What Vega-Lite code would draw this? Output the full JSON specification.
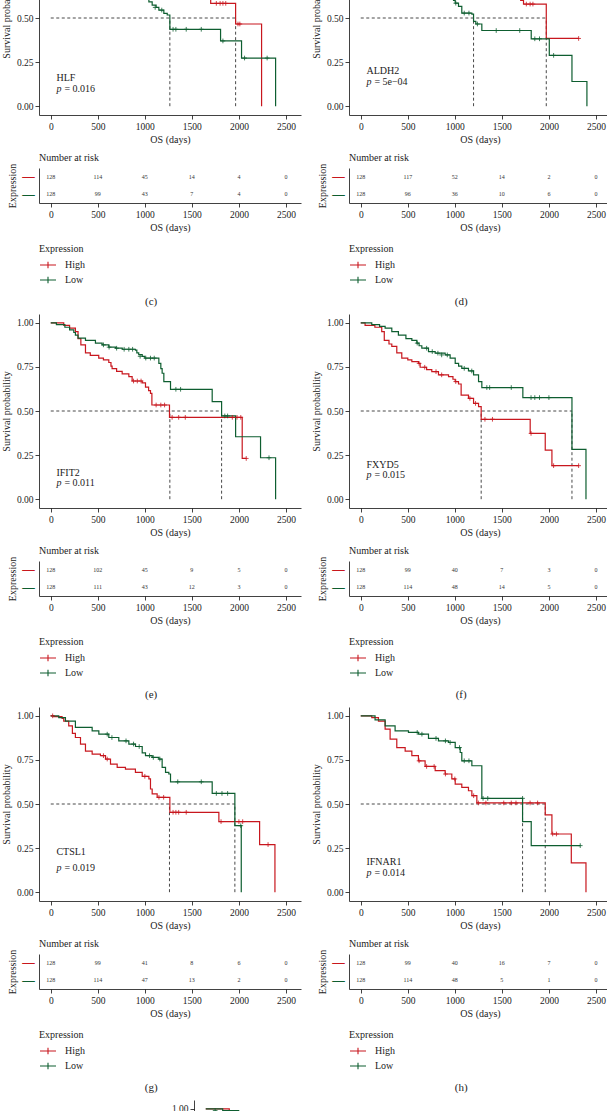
{
"$schema":"https://vega.github.io/schema/vega-lite/v6.json",
"background":"white",
"padding":{"top":-79,"left":1,"right":-4,"bottom":-212},
"config":{"font":"Liberation Serif","view":{"stroke":null},
"axis":{"domainColor":"#111","tickColor":"#111","domainWidth":0.8,"tickWidth":0.8,"tickSize":4,"labelPadding":2.5,"labelFontSize":9.5,"labelColor":"#222","titleFontSize":10,"titleFontWeight":"normal","titleColor":"#222","titlePadding":3.5,"grid":false},
"axisY":{"titlePadding":5,"labelPadding":2},
"title":{"fontWeight":"normal","color":"#222"}},
"datasets":{
"km":[
{"p":"c","g":"High","t":0,"s":1},{"p":"c","g":"High","t":200,"s":0.97},{"p":"c","g":"High","t":350,"s":0.94},{"p":"c","g":"High","t":500,"s":0.9},{"p":"c","g":"High","t":650,"s":0.86},{"p":"c","g":"High","t":800,"s":0.82},{"p":"c","g":"High","t":950,"s":0.78},{"p":"c","g":"High","t":1100,"s":0.74},{"p":"c","g":"High","t":1250,"s":0.7},{"p":"c","g":"High","t":1400,"s":0.66},{"p":"c","g":"High","t":1550,"s":0.62},{"p":"c","g":"High","t":1700,"s":0.583},{"p":"c","g":"High","t":1965,"s":0.466},{"p":"c","g":"High","t":2241,"s":0},
{"p":"c","g":"Low","t":0,"s":1},{"p":"c","g":"Low","t":150,"s":0.97},{"p":"c","g":"Low","t":300,"s":0.92},{"p":"c","g":"Low","t":450,"s":0.88},{"p":"c","g":"Low","t":600,"s":0.83},{"p":"c","g":"Low","t":750,"s":0.77},{"p":"c","g":"Low","t":900,"s":0.7},{"p":"c","g":"Low","t":1000,"s":0.64},{"p":"c","g":"Low","t":1043,"s":0.592},{"p":"c","g":"Low","t":1078,"s":0.573},{"p":"c","g":"Low","t":1120,"s":0.56},{"p":"c","g":"Low","t":1149,"s":0.545},{"p":"c","g":"Low","t":1202,"s":0.526},{"p":"c","g":"Low","t":1238,"s":0.517},{"p":"c","g":"Low","t":1266,"s":0.436},{"p":"c","g":"Low","t":1805,"s":0.37},{"p":"c","g":"Low","t":2028,"s":0.273},{"p":"c","g":"Low","t":2390,"s":0},
{"p":"d","g":"High","t":0,"s":1},{"p":"d","g":"High","t":300,"s":0.96},{"p":"d","g":"High","t":600,"s":0.9},{"p":"d","g":"High","t":900,"s":0.82},{"p":"d","g":"High","t":1200,"s":0.72},{"p":"d","g":"High","t":1500,"s":0.64},{"p":"d","g":"High","t":1700,"s":0.6},{"p":"d","g":"High","t":1730,"s":0.579},{"p":"d","g":"High","t":1972,"s":0.384},{"p":"d","g":"High","t":2316,"s":0.384},
{"p":"d","g":"Low","t":0,"s":1},{"p":"d","g":"Low","t":200,"s":0.95},{"p":"d","g":"Low","t":400,"s":0.87},{"p":"d","g":"Low","t":600,"s":0.79},{"p":"d","g":"Low","t":800,"s":0.71},{"p":"d","g":"Low","t":950,"s":0.63},{"p":"d","g":"Low","t":986,"s":0.6},{"p":"d","g":"Low","t":1004,"s":0.584},{"p":"d","g":"Low","t":1039,"s":0.566},{"p":"d","g":"Low","t":1074,"s":0.528},{"p":"d","g":"Low","t":1181,"s":0.522},{"p":"d","g":"Low","t":1199,"s":0.481},{"p":"d","g":"Low","t":1223,"s":0.466},{"p":"d","g":"Low","t":1287,"s":0.429},{"p":"d","g":"Low","t":1812,"s":0.382},{"p":"d","g":"Low","t":2004,"s":0.288},{"p":"d","g":"Low","t":2245,"s":0.14},{"p":"d","g":"Low","t":2404,"s":0},
{"p":"e","g":"High","t":0,"s":1},{"p":"e","g":"High","t":138,"s":0.985},{"p":"e","g":"High","t":200,"s":0.97},{"p":"e","g":"High","t":262,"s":0.95},{"p":"e","g":"High","t":290,"s":0.91},{"p":"e","g":"High","t":320,"s":0.875},{"p":"e","g":"High","t":369,"s":0.83},{"p":"e","g":"High","t":420,"s":0.815},{"p":"e","g":"High","t":510,"s":0.8},{"p":"e","g":"High","t":560,"s":0.79},{"p":"e","g":"High","t":617,"s":0.775},{"p":"e","g":"High","t":640,"s":0.755},{"p":"e","g":"High","t":652,"s":0.74},{"p":"e","g":"High","t":700,"s":0.725},{"p":"e","g":"High","t":759,"s":0.71},{"p":"e","g":"High","t":830,"s":0.695},{"p":"e","g":"High","t":865,"s":0.67},{"p":"e","g":"High","t":972,"s":0.66},{"p":"e","g":"High","t":1007,"s":0.635},{"p":"e","g":"High","t":1040,"s":0.615},{"p":"e","g":"High","t":1060,"s":0.6},{"p":"e","g":"High","t":1075,"s":0.534},{"p":"e","g":"High","t":1262,"s":0.464},{"p":"e","g":"High","t":2035,"s":0.231},{"p":"e","g":"High","t":2078,"s":0.231},
{"p":"e","g":"Low","t":0,"s":1},{"p":"e","g":"Low","t":60,"s":0.99},{"p":"e","g":"Low","t":150,"s":0.975},{"p":"e","g":"Low","t":200,"s":0.96},{"p":"e","g":"Low","t":245,"s":0.945},{"p":"e","g":"Low","t":262,"s":0.93},{"p":"e","g":"Low","t":290,"s":0.913},{"p":"e","g":"Low","t":369,"s":0.9},{"p":"e","g":"Low","t":475,"s":0.885},{"p":"e","g":"Low","t":546,"s":0.875},{"p":"e","g":"Low","t":617,"s":0.862},{"p":"e","g":"Low","t":690,"s":0.856},{"p":"e","g":"Low","t":760,"s":0.85},{"p":"e","g":"Low","t":900,"s":0.845},{"p":"e","g":"Low","t":915,"s":0.83},{"p":"e","g":"Low","t":935,"s":0.82},{"p":"e","g":"Low","t":972,"s":0.81},{"p":"e","g":"Low","t":1000,"s":0.8},{"p":"e","g":"Low","t":1149,"s":0.77},{"p":"e","g":"Low","t":1170,"s":0.74},{"p":"e","g":"Low","t":1184,"s":0.714},{"p":"e","g":"Low","t":1202,"s":0.667},{"p":"e","g":"Low","t":1273,"s":0.623},{"p":"e","g":"Low","t":1716,"s":0.553},{"p":"e","g":"Low","t":1816,"s":0.472},{"p":"e","g":"Low","t":1965,"s":0.354},{"p":"e","g":"Low","t":2230,"s":0.235},{"p":"e","g":"Low","t":2390,"s":0},
{"p":"f","g":"High","t":0,"s":1},{"p":"f","g":"High","t":46,"s":0.985},{"p":"f","g":"High","t":150,"s":0.975},{"p":"f","g":"High","t":223,"s":0.95},{"p":"f","g":"High","t":250,"s":0.9},{"p":"f","g":"High","t":300,"s":0.88},{"p":"f","g":"High","t":330,"s":0.866},{"p":"f","g":"High","t":383,"s":0.83},{"p":"f","g":"High","t":436,"s":0.8},{"p":"f","g":"High","t":500,"s":0.79},{"p":"f","g":"High","t":543,"s":0.78},{"p":"f","g":"High","t":613,"s":0.77},{"p":"f","g":"High","t":631,"s":0.748},{"p":"f","g":"High","t":700,"s":0.735},{"p":"f","g":"High","t":755,"s":0.723},{"p":"f","g":"High","t":826,"s":0.705},{"p":"f","g":"High","t":933,"s":0.695},{"p":"f","g":"High","t":980,"s":0.68},{"p":"f","g":"High","t":1004,"s":0.667},{"p":"f","g":"High","t":1039,"s":0.653},{"p":"f","g":"High","t":1067,"s":0.59},{"p":"f","g":"High","t":1145,"s":0.572},{"p":"f","g":"High","t":1199,"s":0.543},{"p":"f","g":"High","t":1252,"s":0.525},{"p":"f","g":"High","t":1280,"s":0.453},{"p":"f","g":"High","t":1801,"s":0.373},{"p":"f","g":"High","t":1961,"s":0.278},{"p":"f","g":"High","t":2032,"s":0.19},{"p":"f","g":"High","t":2316,"s":0.19},
{"p":"f","g":"Low","t":0,"s":1},{"p":"f","g":"Low","t":117,"s":0.99},{"p":"f","g":"Low","t":200,"s":0.98},{"p":"f","g":"Low","t":259,"s":0.97},{"p":"f","g":"Low","t":330,"s":0.95},{"p":"f","g":"Low","t":400,"s":0.93},{"p":"f","g":"Low","t":480,"s":0.91},{"p":"f","g":"Low","t":543,"s":0.9},{"p":"f","g":"Low","t":596,"s":0.885},{"p":"f","g":"Low","t":620,"s":0.87},{"p":"f","g":"Low","t":649,"s":0.856},{"p":"f","g":"Low","t":720,"s":0.837},{"p":"f","g":"Low","t":791,"s":0.828},{"p":"f","g":"Low","t":897,"s":0.818},{"p":"f","g":"Low","t":950,"s":0.8},{"p":"f","g":"Low","t":1004,"s":0.77},{"p":"f","g":"Low","t":1040,"s":0.755},{"p":"f","g":"Low","t":1074,"s":0.742},{"p":"f","g":"Low","t":1145,"s":0.727},{"p":"f","g":"Low","t":1199,"s":0.705},{"p":"f","g":"Low","t":1252,"s":0.667},{"p":"f","g":"Low","t":1287,"s":0.633},{"p":"f","g":"Low","t":1723,"s":0.576},{"p":"f","g":"Low","t":2245,"s":0.282},{"p":"f","g":"Low","t":2394,"s":0},
{"p":"g","g":"High","t":0,"s":1},{"p":"g","g":"High","t":32,"s":0.995},{"p":"g","g":"High","t":120,"s":0.985},{"p":"g","g":"High","t":138,"s":0.97},{"p":"g","g":"High","t":191,"s":0.943},{"p":"g","g":"High","t":230,"s":0.9},{"p":"g","g":"High","t":262,"s":0.877},{"p":"g","g":"High","t":316,"s":0.84},{"p":"g","g":"High","t":369,"s":0.8},{"p":"g","g":"High","t":440,"s":0.783},{"p":"g","g":"High","t":528,"s":0.774},{"p":"g","g":"High","t":582,"s":0.755},{"p":"g","g":"High","t":635,"s":0.726},{"p":"g","g":"High","t":706,"s":0.708},{"p":"g","g":"High","t":794,"s":0.698},{"p":"g","g":"High","t":900,"s":0.679},{"p":"g","g":"High","t":972,"s":0.657},{"p":"g","g":"High","t":1043,"s":0.642},{"p":"g","g":"High","t":1060,"s":0.585},{"p":"g","g":"High","t":1078,"s":0.557},{"p":"g","g":"High","t":1131,"s":0.538},{"p":"g","g":"High","t":1266,"s":0.453},{"p":"g","g":"High","t":1787,"s":0.4},{"p":"g","g":"High","t":2220,"s":0.27},{"p":"g","g":"High","t":2383,"s":0},
{"p":"g","g":"Low","t":0,"s":1},{"p":"g","g":"Low","t":85,"s":0.99},{"p":"g","g":"Low","t":156,"s":0.97},{"p":"g","g":"Low","t":262,"s":0.934},{"p":"g","g":"Low","t":440,"s":0.915},{"p":"g","g":"Low","t":511,"s":0.896},{"p":"g","g":"Low","t":617,"s":0.877},{"p":"g","g":"Low","t":723,"s":0.858},{"p":"g","g":"Low","t":830,"s":0.84},{"p":"g","g":"Low","t":901,"s":0.826},{"p":"g","g":"Low","t":972,"s":0.79},{"p":"g","g":"Low","t":1007,"s":0.774},{"p":"g","g":"Low","t":1078,"s":0.764},{"p":"g","g":"Low","t":1149,"s":0.755},{"p":"g","g":"Low","t":1184,"s":0.708},{"p":"g","g":"Low","t":1220,"s":0.679},{"p":"g","g":"Low","t":1255,"s":0.67},{"p":"g","g":"Low","t":1273,"s":0.626},{"p":"g","g":"Low","t":1716,"s":0.56},{"p":"g","g":"Low","t":1957,"s":0.377},{"p":"g","g":"Low","t":2025,"s":0},
{"p":"h","g":"High","t":0,"s":1},{"p":"h","g":"High","t":117,"s":0.99},{"p":"h","g":"High","t":188,"s":0.97},{"p":"h","g":"High","t":259,"s":0.925},{"p":"h","g":"High","t":312,"s":0.868},{"p":"h","g":"High","t":383,"s":0.82},{"p":"h","g":"High","t":472,"s":0.8},{"p":"h","g":"High","t":543,"s":0.774},{"p":"h","g":"High","t":613,"s":0.745},{"p":"h","g":"High","t":684,"s":0.713},{"p":"h","g":"High","t":791,"s":0.689},{"p":"h","g":"High","t":897,"s":0.67},{"p":"h","g":"High","t":968,"s":0.642},{"p":"h","g":"High","t":1004,"s":0.613},{"p":"h","g":"High","t":1074,"s":0.594},{"p":"h","g":"High","t":1145,"s":0.575},{"p":"h","g":"High","t":1181,"s":0.547},{"p":"h","g":"High","t":1234,"s":0.506},{"p":"h","g":"High","t":1961,"s":0.438},{"p":"h","g":"High","t":2032,"s":0.33},{"p":"h","g":"High","t":2238,"s":0.166},{"p":"h","g":"High","t":2394,"s":0},
{"p":"h","g":"Low","t":0,"s":1},{"p":"h","g":"Low","t":152,"s":0.977},{"p":"h","g":"Low","t":259,"s":0.943},{"p":"h","g":"Low","t":365,"s":0.915},{"p":"h","g":"Low","t":507,"s":0.906},{"p":"h","g":"Low","t":613,"s":0.896},{"p":"h","g":"Low","t":720,"s":0.872},{"p":"h","g":"Low","t":826,"s":0.858},{"p":"h","g":"Low","t":933,"s":0.849},{"p":"h","g":"Low","t":1004,"s":0.82},{"p":"h","g":"Low","t":1057,"s":0.792},{"p":"h","g":"Low","t":1074,"s":0.745},{"p":"h","g":"Low","t":1181,"s":0.717},{"p":"h","g":"Low","t":1287,"s":0.532},{"p":"h","g":"Low","t":1720,"s":0.4},{"p":"h","g":"Low","t":1812,"s":0.264},{"p":"h","g":"Low","t":2333,"s":0.264},
{"p":"i","g":"High","t":0,"s":1},{"p":"i","g":"High","t":250,"s":0.98},{"p":"i","g":"High","t":400,"s":0.95},{"p":"i","g":"High","t":600,"s":0.9},
{"p":"i","g":"Low","t":0,"s":1},{"p":"i","g":"Low","t":180,"s":0.99},{"p":"i","g":"Low","t":350,"s":0.97},{"p":"i","g":"Low","t":600,"s":0.94}
],
"cen":[
{"p":"c","g":"High","t":1760,"s":0.583},{"p":"c","g":"High","t":1800,"s":0.583},{"p":"c","g":"High","t":1830,"s":0.583},{"p":"c","g":"High","t":1860,"s":0.583},{"p":"c","g":"High","t":1990,"s":0.466},{"p":"c","g":"High","t":2010,"s":0.466},
{"p":"c","g":"Low","t":1110,"s":0.56},{"p":"c","g":"Low","t":1180,"s":0.545},{"p":"c","g":"Low","t":1300,"s":0.436},{"p":"c","g":"Low","t":1330,"s":0.436},{"p":"c","g":"Low","t":1440,"s":0.436},{"p":"c","g":"Low","t":1600,"s":0.436},{"p":"c","g":"Low","t":1830,"s":0.37},{"p":"c","g":"Low","t":2060,"s":0.273},{"p":"c","g":"Low","t":2300,"s":0.273},
{"p":"d","g":"High","t":1760,"s":0.579},{"p":"d","g":"High","t":1800,"s":0.579},{"p":"d","g":"High","t":1830,"s":0.579},{"p":"d","g":"High","t":2316,"s":0.384},
{"p":"d","g":"Low","t":1010,"s":0.584},{"p":"d","g":"Low","t":1100,"s":0.528},{"p":"d","g":"Low","t":1150,"s":0.528},{"p":"d","g":"Low","t":1240,"s":0.466},{"p":"d","g":"Low","t":1440,"s":0.429},{"p":"d","g":"Low","t":1690,"s":0.429},{"p":"d","g":"Low","t":1850,"s":0.382},{"p":"d","g":"Low","t":1900,"s":0.382},{"p":"d","g":"Low","t":2050,"s":0.288},
{"p":"e","g":"High","t":880,"s":0.67},{"p":"e","g":"High","t":920,"s":0.67},{"p":"e","g":"High","t":960,"s":0.67},{"p":"e","g":"High","t":1120,"s":0.534},{"p":"e","g":"High","t":1170,"s":0.534},{"p":"e","g":"High","t":1210,"s":0.534},{"p":"e","g":"High","t":1290,"s":0.464},{"p":"e","g":"High","t":1360,"s":0.464},{"p":"e","g":"High","t":1430,"s":0.464},{"p":"e","g":"High","t":1930,"s":0.464},{"p":"e","g":"High","t":1980,"s":0.464},{"p":"e","g":"High","t":2020,"s":0.464},{"p":"e","g":"High","t":2078,"s":0.231},
{"p":"e","g":"Low","t":560,"s":0.875},{"p":"e","g":"Low","t":620,"s":0.862},{"p":"e","g":"Low","t":700,"s":0.856},{"p":"e","g":"Low","t":780,"s":0.85},{"p":"e","g":"Low","t":830,"s":0.85},{"p":"e","g":"Low","t":870,"s":0.85},{"p":"e","g":"Low","t":950,"s":0.81},{"p":"e","g":"Low","t":1010,"s":0.8},{"p":"e","g":"Low","t":1060,"s":0.8},{"p":"e","g":"Low","t":1100,"s":0.8},{"p":"e","g":"Low","t":1330,"s":0.623},{"p":"e","g":"Low","t":1380,"s":0.623},{"p":"e","g":"Low","t":1850,"s":0.472},{"p":"e","g":"Low","t":1880,"s":0.472},{"p":"e","g":"Low","t":2320,"s":0.235},
{"p":"f","g":"High","t":620,"s":0.77},{"p":"f","g":"High","t":680,"s":0.748},{"p":"f","g":"High","t":800,"s":0.723},{"p":"f","g":"High","t":860,"s":0.705},{"p":"f","g":"High","t":1010,"s":0.667},{"p":"f","g":"High","t":1160,"s":0.572},{"p":"f","g":"High","t":1220,"s":0.543},{"p":"f","g":"High","t":1320,"s":0.453},{"p":"f","g":"High","t":1400,"s":0.453},{"p":"f","g":"High","t":1810,"s":0.373},{"p":"f","g":"High","t":2050,"s":0.19},{"p":"f","g":"High","t":2316,"s":0.19},
{"p":"f","g":"Low","t":600,"s":0.885},{"p":"f","g":"Low","t":700,"s":0.856},{"p":"f","g":"Low","t":760,"s":0.837},{"p":"f","g":"Low","t":820,"s":0.828},{"p":"f","g":"Low","t":860,"s":0.818},{"p":"f","g":"Low","t":920,"s":0.818},{"p":"f","g":"Low","t":1100,"s":0.742},{"p":"f","g":"Low","t":1180,"s":0.727},{"p":"f","g":"Low","t":1340,"s":0.633},{"p":"f","g":"Low","t":1370,"s":0.633},{"p":"f","g":"Low","t":1600,"s":0.633},{"p":"f","g":"Low","t":1810,"s":0.576},{"p":"f","g":"Low","t":1850,"s":0.576},{"p":"f","g":"Low","t":1900,"s":0.576},{"p":"f","g":"Low","t":2000,"s":0.576},
{"p":"g","g":"High","t":20,"s":1},{"p":"g","g":"High","t":560,"s":0.774},{"p":"g","g":"High","t":600,"s":0.755},{"p":"g","g":"High","t":1000,"s":0.657},{"p":"g","g":"High","t":1150,"s":0.538},{"p":"g","g":"High","t":1200,"s":0.538},{"p":"g","g":"High","t":1300,"s":0.453},{"p":"g","g":"High","t":1330,"s":0.453},{"p":"g","g":"High","t":1360,"s":0.453},{"p":"g","g":"High","t":1440,"s":0.453},{"p":"g","g":"High","t":1810,"s":0.4},{"p":"g","g":"High","t":2000,"s":0.4},{"p":"g","g":"High","t":2040,"s":0.4},{"p":"g","g":"High","t":2310,"s":0.27},
{"p":"g","g":"Low","t":600,"s":0.896},{"p":"g","g":"Low","t":650,"s":0.877},{"p":"g","g":"Low","t":800,"s":0.858},{"p":"g","g":"Low","t":880,"s":0.84},{"p":"g","g":"Low","t":940,"s":0.826},{"p":"g","g":"Low","t":1050,"s":0.774},{"p":"g","g":"Low","t":1090,"s":0.764},{"p":"g","g":"Low","t":1160,"s":0.755},{"p":"g","g":"Low","t":1350,"s":0.626},{"p":"g","g":"Low","t":1600,"s":0.626},{"p":"g","g":"Low","t":1760,"s":0.56},{"p":"g","g":"Low","t":1820,"s":0.56},{"p":"g","g":"Low","t":1880,"s":0.56},{"p":"g","g":"Low","t":2020,"s":0.377},
{"p":"h","g":"High","t":620,"s":0.745},{"p":"h","g":"High","t":700,"s":0.713},{"p":"h","g":"High","t":780,"s":0.713},{"p":"h","g":"High","t":900,"s":0.67},{"p":"h","g":"High","t":1000,"s":0.642},{"p":"h","g":"High","t":1200,"s":0.547},{"p":"h","g":"High","t":1250,"s":0.506},{"p":"h","g":"High","t":1330,"s":0.506},{"p":"h","g":"High","t":1520,"s":0.506},{"p":"h","g":"High","t":1600,"s":0.506},{"p":"h","g":"High","t":1650,"s":0.506},{"p":"h","g":"High","t":1800,"s":0.506},{"p":"h","g":"High","t":1880,"s":0.506},{"p":"h","g":"High","t":2040,"s":0.33},{"p":"h","g":"High","t":2080,"s":0.33},
{"p":"h","g":"Low","t":600,"s":0.906},{"p":"h","g":"Low","t":650,"s":0.896},{"p":"h","g":"Low","t":800,"s":0.872},{"p":"h","g":"Low","t":900,"s":0.858},{"p":"h","g":"Low","t":950,"s":0.849},{"p":"h","g":"Low","t":1050,"s":0.82},{"p":"h","g":"Low","t":1100,"s":0.745},{"p":"h","g":"Low","t":1150,"s":0.745},{"p":"h","g":"Low","t":1300,"s":0.532},{"p":"h","g":"Low","t":1350,"s":0.532},{"p":"h","g":"Low","t":1720,"s":0.532},{"p":"h","g":"Low","t":2333,"s":0.264},
{"p":"i","g":"Low","t":100,"s":0.99}
],
"med":[
{"p":"c","t":0,"t2":1965,"s":0.5,"s2":0.5},{"p":"c","t":1266,"t2":1266,"s":0,"s2":0.5},{"p":"c","t":1965,"t2":1965,"s":0,"s2":0.5},
{"p":"d","t":0,"t2":1972,"s":0.5,"s2":0.5},{"p":"d","t":1199,"t2":1199,"s":0,"s2":0.5},{"p":"d","t":1972,"t2":1972,"s":0,"s2":0.5},
{"p":"e","t":0,"t2":1816,"s":0.5,"s2":0.5},{"p":"e","t":1266,"t2":1266,"s":0,"s2":0.5},{"p":"e","t":1816,"t2":1816,"s":0,"s2":0.5},
{"p":"f","t":0,"t2":2245,"s":0.5,"s2":0.5},{"p":"f","t":1280,"t2":1280,"s":0,"s2":0.5},{"p":"f","t":2245,"t2":2245,"s":0,"s2":0.5},
{"p":"g","t":0,"t2":1957,"s":0.5,"s2":0.5},{"p":"g","t":1262,"t2":1262,"s":0,"s2":0.5},{"p":"g","t":1957,"t2":1957,"s":0,"s2":0.5},
{"p":"h","t":0,"t2":1961,"s":0.5,"s2":0.5},{"p":"h","t":1720,"t2":1720,"s":0,"s2":0.5},{"p":"h","t":1961,"t2":1961,"s":0,"s2":0.5}
],
"lab":[
{"p":"c","k":"gene","t":60,"s":0.16,"txt":"HLF"},{"p":"c","k":"pv","t":60,"s":0.098,"txt":"= 0.016"},
{"p":"d","k":"gene","t":60,"s":0.197,"txt":"ALDH2"},{"p":"d","k":"pv","t":60,"s":0.139,"txt":"= 5e−04"},
{"p":"e","k":"gene","t":60,"s":0.149,"txt":"IFIT2"},{"p":"e","k":"pv","t":60,"s":0.089,"txt":"= 0.011"},
{"p":"f","k":"gene","t":60,"s":0.193,"txt":"FXYD5"},{"p":"f","k":"pv","t":60,"s":0.136,"txt":"= 0.015"},
{"p":"g","k":"gene","t":60,"s":0.226,"txt":"CTSL1"},{"p":"g","k":"pv","t":60,"s":0.136,"txt":"= 0.019"},
{"p":"h","k":"gene","t":60,"s":0.17,"txt":"IFNAR1"},{"p":"h","k":"pv","t":60,"s":0.108,"txt":"= 0.014"}
],
"risk":[
{"p":"c","g":"High","t":0,"n":128},{"p":"c","g":"High","t":500,"n":114},{"p":"c","g":"High","t":1000,"n":45},{"p":"c","g":"High","t":1500,"n":14},{"p":"c","g":"High","t":2000,"n":4},{"p":"c","g":"High","t":2500,"n":0},
{"p":"c","g":"Low","t":0,"n":128},{"p":"c","g":"Low","t":500,"n":99},{"p":"c","g":"Low","t":1000,"n":43},{"p":"c","g":"Low","t":1500,"n":7},{"p":"c","g":"Low","t":2000,"n":4},{"p":"c","g":"Low","t":2500,"n":0},
{"p":"d","g":"High","t":0,"n":128},{"p":"d","g":"High","t":500,"n":117},{"p":"d","g":"High","t":1000,"n":52},{"p":"d","g":"High","t":1500,"n":14},{"p":"d","g":"High","t":2000,"n":2},{"p":"d","g":"High","t":2500,"n":0},
{"p":"d","g":"Low","t":0,"n":128},{"p":"d","g":"Low","t":500,"n":96},{"p":"d","g":"Low","t":1000,"n":36},{"p":"d","g":"Low","t":1500,"n":10},{"p":"d","g":"Low","t":2000,"n":6},{"p":"d","g":"Low","t":2500,"n":0},
{"p":"e","g":"High","t":0,"n":128},{"p":"e","g":"High","t":500,"n":102},{"p":"e","g":"High","t":1000,"n":45},{"p":"e","g":"High","t":1500,"n":9},{"p":"e","g":"High","t":2000,"n":5},{"p":"e","g":"High","t":2500,"n":0},
{"p":"e","g":"Low","t":0,"n":128},{"p":"e","g":"Low","t":500,"n":111},{"p":"e","g":"Low","t":1000,"n":43},{"p":"e","g":"Low","t":1500,"n":12},{"p":"e","g":"Low","t":2000,"n":3},{"p":"e","g":"Low","t":2500,"n":0},
{"p":"f","g":"High","t":0,"n":128},{"p":"f","g":"High","t":500,"n":99},{"p":"f","g":"High","t":1000,"n":40},{"p":"f","g":"High","t":1500,"n":7},{"p":"f","g":"High","t":2000,"n":3},{"p":"f","g":"High","t":2500,"n":0},
{"p":"f","g":"Low","t":0,"n":128},{"p":"f","g":"Low","t":500,"n":114},{"p":"f","g":"Low","t":1000,"n":48},{"p":"f","g":"Low","t":1500,"n":14},{"p":"f","g":"Low","t":2000,"n":5},{"p":"f","g":"Low","t":2500,"n":0},
{"p":"g","g":"High","t":0,"n":128},{"p":"g","g":"High","t":500,"n":99},{"p":"g","g":"High","t":1000,"n":41},{"p":"g","g":"High","t":1500,"n":8},{"p":"g","g":"High","t":2000,"n":6},{"p":"g","g":"High","t":2500,"n":0},
{"p":"g","g":"Low","t":0,"n":128},{"p":"g","g":"Low","t":500,"n":114},{"p":"g","g":"Low","t":1000,"n":47},{"p":"g","g":"Low","t":1500,"n":13},{"p":"g","g":"Low","t":2000,"n":2},{"p":"g","g":"Low","t":2500,"n":0},
{"p":"h","g":"High","t":0,"n":128},{"p":"h","g":"High","t":500,"n":99},{"p":"h","g":"High","t":1000,"n":40},{"p":"h","g":"High","t":1500,"n":16},{"p":"h","g":"High","t":2000,"n":7},{"p":"h","g":"High","t":2500,"n":0},
{"p":"h","g":"Low","t":0,"n":128},{"p":"h","g":"Low","t":500,"n":114},{"p":"h","g":"Low","t":1000,"n":48},{"p":"h","g":"Low","t":1500,"n":5},{"p":"h","g":"Low","t":2000,"n":1},{"p":"h","g":"Low","t":2500,"n":0}
]
},
"vconcat":[
{"hconcat":[
{"title":{"text":"(c)","orient":"bottom","anchor":"middle","offset":10,"fontSize":11},"spacing":8,"resolve":{"scale":{"color":"independent"},"legend":{"color":"independent"}},"vconcat":[
{"width":262,"height":194,"layer":[
{"data":{"name":"med"},"transform":[{"filter":"datum.p=='c'"}],"mark":{"type":"rule","color":"#333","strokeWidth":0.9,"strokeDash":[3,2.5]},"encoding":{"x":{"field":"t","type":"quantitative","scale":{"domain":[-125,2660],"nice":false,"zero":false},"axis":{"values":[0,500,1000,1500,2000,2500],"format":"d","title":"OS (days)"}},"x2":{"field":"t2"},"y":{"field":"s","type":"quantitative","scale":{"domain":[-0.05,1.05],"nice":false,"zero":false},"axis":{"values":[0,0.25,0.5,0.75,1],"format":".2f","title":"Survival probability"}},"y2":{"field":"s2"}}},
{"data":{"name":"km"},"transform":[{"filter":"datum.p=='c'"}],"mark":{"type":"line","interpolate":"step-after","strokeWidth":1.2},"encoding":{"x":{"field":"t","type":"quantitative"},"y":{"field":"s","type":"quantitative"},"color":{"field":"g","type":"nominal","scale":{"domain":["High","Low"],"range":["#C8171E","#0E5E30"]},"legend":null}}},
{"data":{"name":"cen"},"transform":[{"filter":"datum.p=='c'"}],"mark":{"type":"point","shape":"M-1,0H1M0,-1V1","filled":false,"size":22,"strokeWidth":0.8,"opacity":1},"encoding":{"x":{"field":"t","type":"quantitative"},"y":{"field":"s","type":"quantitative"},"color":{"field":"g","type":"nominal","legend":null}}},
{"data":{"name":"lab"},"transform":[{"filter":"datum.p=='c' && datum.k=='gene'"}],"mark":{"type":"text","align":"left","fontSize":10,"color":"#222"},"encoding":{"x":{"field":"t","type":"quantitative"},"y":{"field":"s","type":"quantitative"},"text":{"field":"txt"}}},
{"data":{"name":"lab"},"transform":[{"filter":"datum.p=='c' && datum.k=='pv'"}],"mark":{"type":"text","align":"left","fontSize":10,"fontStyle":"italic","color":"#222"},"encoding":{"x":{"field":"t","type":"quantitative"},"y":{"field":"s","type":"quantitative"},"text":{"value":"p"}}},
{"data":{"name":"lab"},"transform":[{"filter":"datum.p=='c' && datum.k=='pv'"}],"mark":{"type":"text","align":"left","fontSize":10,"dx":8,"color":"#222"},"encoding":{"x":{"field":"t","type":"quantitative"},"y":{"field":"s","type":"quantitative"},"text":{"field":"txt"}}}
]},
{"width":262,"height":35,"title":{"text":"Number at risk","anchor":"start","frame":"group","offset":0,"fontSize":10},"layer":[
{"data":{"name":"risk"},"transform":[{"filter":"datum.p=='c'"}],"mark":{"type":"text","fontSize":6,"color":"#333"},"encoding":{"x":{"field":"t","type":"quantitative","scale":{"domain":[-125,2660],"nice":false,"zero":false},"axis":{"values":[0,500,1000,1500,2000,2500],"format":"d","title":"OS (days)"}},"y":{"field":"g","type":"nominal","sort":["High","Low"],"axis":{"title":"Expression","ticks":false,"labelExpr":"'—'","labelFont":"DejaVu Sans","labelFontSize":14,"labelPadding":4,"titlePadding":4,"labelColor":{"condition":{"test":"datum.value=='High'","value":"#C8171E"},"value":"#0E5E30"}}},"text":{"field":"n","type":"quantitative"}}},
{"data":{"name":"risk"},"transform":[{"filter":"false"}],"mark":{"type":"point","filled":false},"encoding":{"x":{"field":"t","type":"quantitative"},"y":{"field":"g","type":"nominal","sort":["High","Low"]},"color":{"field":"g","type":"nominal","scale":{"domain":["High","Low"],"range":["#C8171E","#0E5E30"]},"legend":{"orient":"bottom","direction":"vertical","title":"Expression","symbolType":"M-1,0H1M0,-0.4V0.4","symbolSize":256,"symbolStrokeWidth":1.1,"symbolOpacity":1,"labelOffset":8,"rowPadding":0,"titlePadding":2,"offset":11,"padding":0,"labelFontSize":10,"titleFontSize":10,"titleFontWeight":"normal","labelColor":"#222","titleColor":"#222"}}}}
]}
]},
{"title":{"text":"(d)","orient":"bottom","anchor":"middle","offset":10,"fontSize":11},"spacing":8,"resolve":{"scale":{"color":"independent"},"legend":{"color":"independent"}},"vconcat":[
{"width":262,"height":194,"layer":[
{"data":{"name":"med"},"transform":[{"filter":"datum.p=='d'"}],"mark":{"type":"rule","color":"#333","strokeWidth":0.9,"strokeDash":[3,2.5]},"encoding":{"x":{"field":"t","type":"quantitative","scale":{"domain":[-125,2660],"nice":false,"zero":false},"axis":{"values":[0,500,1000,1500,2000,2500],"format":"d","title":"OS (days)"}},"x2":{"field":"t2"},"y":{"field":"s","type":"quantitative","scale":{"domain":[-0.05,1.05],"nice":false,"zero":false},"axis":{"values":[0,0.25,0.5,0.75,1],"format":".2f","title":"Survival probability"}},"y2":{"field":"s2"}}},
{"data":{"name":"km"},"transform":[{"filter":"datum.p=='d'"}],"mark":{"type":"line","interpolate":"step-after","strokeWidth":1.2},"encoding":{"x":{"field":"t","type":"quantitative"},"y":{"field":"s","type":"quantitative"},"color":{"field":"g","type":"nominal","scale":{"domain":["High","Low"],"range":["#C8171E","#0E5E30"]},"legend":null}}},
{"data":{"name":"cen"},"transform":[{"filter":"datum.p=='d'"}],"mark":{"type":"point","shape":"M-1,0H1M0,-1V1","filled":false,"size":22,"strokeWidth":0.8,"opacity":1},"encoding":{"x":{"field":"t","type":"quantitative"},"y":{"field":"s","type":"quantitative"},"color":{"field":"g","type":"nominal","legend":null}}},
{"data":{"name":"lab"},"transform":[{"filter":"datum.p=='d' && datum.k=='gene'"}],"mark":{"type":"text","align":"left","fontSize":10,"color":"#222"},"encoding":{"x":{"field":"t","type":"quantitative"},"y":{"field":"s","type":"quantitative"},"text":{"field":"txt"}}},
{"data":{"name":"lab"},"transform":[{"filter":"datum.p=='d' && datum.k=='pv'"}],"mark":{"type":"text","align":"left","fontSize":10,"fontStyle":"italic","color":"#222"},"encoding":{"x":{"field":"t","type":"quantitative"},"y":{"field":"s","type":"quantitative"},"text":{"value":"p"}}},
{"data":{"name":"lab"},"transform":[{"filter":"datum.p=='d' && datum.k=='pv'"}],"mark":{"type":"text","align":"left","fontSize":10,"dx":8,"color":"#222"},"encoding":{"x":{"field":"t","type":"quantitative"},"y":{"field":"s","type":"quantitative"},"text":{"field":"txt"}}}
]},
{"width":262,"height":35,"title":{"text":"Number at risk","anchor":"start","frame":"group","offset":0,"fontSize":10},"layer":[
{"data":{"name":"risk"},"transform":[{"filter":"datum.p=='d'"}],"mark":{"type":"text","fontSize":6,"color":"#333"},"encoding":{"x":{"field":"t","type":"quantitative","scale":{"domain":[-125,2660],"nice":false,"zero":false},"axis":{"values":[0,500,1000,1500,2000,2500],"format":"d","title":"OS (days)"}},"y":{"field":"g","type":"nominal","sort":["High","Low"],"axis":{"title":"Expression","ticks":false,"labelExpr":"'—'","labelFont":"DejaVu Sans","labelFontSize":14,"labelPadding":4,"titlePadding":4,"labelColor":{"condition":{"test":"datum.value=='High'","value":"#C8171E"},"value":"#0E5E30"}}},"text":{"field":"n","type":"quantitative"}}},
{"data":{"name":"risk"},"transform":[{"filter":"false"}],"mark":{"type":"point","filled":false},"encoding":{"x":{"field":"t","type":"quantitative"},"y":{"field":"g","type":"nominal","sort":["High","Low"]},"color":{"field":"g","type":"nominal","scale":{"domain":["High","Low"],"range":["#C8171E","#0E5E30"]},"legend":{"orient":"bottom","direction":"vertical","title":"Expression","symbolType":"M-1,0H1M0,-0.4V0.4","symbolSize":256,"symbolStrokeWidth":1.1,"symbolOpacity":1,"labelOffset":8,"rowPadding":0,"titlePadding":2,"offset":11,"padding":0,"labelFontSize":10,"titleFontSize":10,"titleFontWeight":"normal","labelColor":"#222","titleColor":"#222"}}}}
]}
]}
],"spacing":10,"resolve":{"scale":{"color":"independent"},"legend":{"color":"independent"}}},
{"hconcat":[
{"title":{"text":"(e)","orient":"bottom","anchor":"middle","offset":10,"fontSize":11},"spacing":8,"resolve":{"scale":{"color":"independent"},"legend":{"color":"independent"}},"vconcat":[
{"width":262,"height":194,"layer":[
{"data":{"name":"med"},"transform":[{"filter":"datum.p=='e'"}],"mark":{"type":"rule","color":"#333","strokeWidth":0.9,"strokeDash":[3,2.5]},"encoding":{"x":{"field":"t","type":"quantitative","scale":{"domain":[-125,2660],"nice":false,"zero":false},"axis":{"values":[0,500,1000,1500,2000,2500],"format":"d","title":"OS (days)"}},"x2":{"field":"t2"},"y":{"field":"s","type":"quantitative","scale":{"domain":[-0.05,1.05],"nice":false,"zero":false},"axis":{"values":[0,0.25,0.5,0.75,1],"format":".2f","title":"Survival probability"}},"y2":{"field":"s2"}}},
{"data":{"name":"km"},"transform":[{"filter":"datum.p=='e'"}],"mark":{"type":"line","interpolate":"step-after","strokeWidth":1.2},"encoding":{"x":{"field":"t","type":"quantitative"},"y":{"field":"s","type":"quantitative"},"color":{"field":"g","type":"nominal","scale":{"domain":["High","Low"],"range":["#C8171E","#0E5E30"]},"legend":null}}},
{"data":{"name":"cen"},"transform":[{"filter":"datum.p=='e'"}],"mark":{"type":"point","shape":"M-1,0H1M0,-1V1","filled":false,"size":22,"strokeWidth":0.8,"opacity":1},"encoding":{"x":{"field":"t","type":"quantitative"},"y":{"field":"s","type":"quantitative"},"color":{"field":"g","type":"nominal","legend":null}}},
{"data":{"name":"lab"},"transform":[{"filter":"datum.p=='e' && datum.k=='gene'"}],"mark":{"type":"text","align":"left","fontSize":10,"color":"#222"},"encoding":{"x":{"field":"t","type":"quantitative"},"y":{"field":"s","type":"quantitative"},"text":{"field":"txt"}}},
{"data":{"name":"lab"},"transform":[{"filter":"datum.p=='e' && datum.k=='pv'"}],"mark":{"type":"text","align":"left","fontSize":10,"fontStyle":"italic","color":"#222"},"encoding":{"x":{"field":"t","type":"quantitative"},"y":{"field":"s","type":"quantitative"},"text":{"value":"p"}}},
{"data":{"name":"lab"},"transform":[{"filter":"datum.p=='e' && datum.k=='pv'"}],"mark":{"type":"text","align":"left","fontSize":10,"dx":8,"color":"#222"},"encoding":{"x":{"field":"t","type":"quantitative"},"y":{"field":"s","type":"quantitative"},"text":{"field":"txt"}}}
]},
{"width":262,"height":35,"title":{"text":"Number at risk","anchor":"start","frame":"group","offset":0,"fontSize":10},"layer":[
{"data":{"name":"risk"},"transform":[{"filter":"datum.p=='e'"}],"mark":{"type":"text","fontSize":6,"color":"#333"},"encoding":{"x":{"field":"t","type":"quantitative","scale":{"domain":[-125,2660],"nice":false,"zero":false},"axis":{"values":[0,500,1000,1500,2000,2500],"format":"d","title":"OS (days)"}},"y":{"field":"g","type":"nominal","sort":["High","Low"],"axis":{"title":"Expression","ticks":false,"labelExpr":"'—'","labelFont":"DejaVu Sans","labelFontSize":14,"labelPadding":4,"titlePadding":4,"labelColor":{"condition":{"test":"datum.value=='High'","value":"#C8171E"},"value":"#0E5E30"}}},"text":{"field":"n","type":"quantitative"}}},
{"data":{"name":"risk"},"transform":[{"filter":"false"}],"mark":{"type":"point","filled":false},"encoding":{"x":{"field":"t","type":"quantitative"},"y":{"field":"g","type":"nominal","sort":["High","Low"]},"color":{"field":"g","type":"nominal","scale":{"domain":["High","Low"],"range":["#C8171E","#0E5E30"]},"legend":{"orient":"bottom","direction":"vertical","title":"Expression","symbolType":"M-1,0H1M0,-0.4V0.4","symbolSize":256,"symbolStrokeWidth":1.1,"symbolOpacity":1,"labelOffset":8,"rowPadding":0,"titlePadding":2,"offset":11,"padding":0,"labelFontSize":10,"titleFontSize":10,"titleFontWeight":"normal","labelColor":"#222","titleColor":"#222"}}}}
]}
]},
{"title":{"text":"(f)","orient":"bottom","anchor":"middle","offset":10,"fontSize":11},"spacing":8,"resolve":{"scale":{"color":"independent"},"legend":{"color":"independent"}},"vconcat":[
{"width":262,"height":194,"layer":[
{"data":{"name":"med"},"transform":[{"filter":"datum.p=='f'"}],"mark":{"type":"rule","color":"#333","strokeWidth":0.9,"strokeDash":[3,2.5]},"encoding":{"x":{"field":"t","type":"quantitative","scale":{"domain":[-125,2660],"nice":false,"zero":false},"axis":{"values":[0,500,1000,1500,2000,2500],"format":"d","title":"OS (days)"}},"x2":{"field":"t2"},"y":{"field":"s","type":"quantitative","scale":{"domain":[-0.05,1.05],"nice":false,"zero":false},"axis":{"values":[0,0.25,0.5,0.75,1],"format":".2f","title":"Survival probability"}},"y2":{"field":"s2"}}},
{"data":{"name":"km"},"transform":[{"filter":"datum.p=='f'"}],"mark":{"type":"line","interpolate":"step-after","strokeWidth":1.2},"encoding":{"x":{"field":"t","type":"quantitative"},"y":{"field":"s","type":"quantitative"},"color":{"field":"g","type":"nominal","scale":{"domain":["High","Low"],"range":["#C8171E","#0E5E30"]},"legend":null}}},
{"data":{"name":"cen"},"transform":[{"filter":"datum.p=='f'"}],"mark":{"type":"point","shape":"M-1,0H1M0,-1V1","filled":false,"size":22,"strokeWidth":0.8,"opacity":1},"encoding":{"x":{"field":"t","type":"quantitative"},"y":{"field":"s","type":"quantitative"},"color":{"field":"g","type":"nominal","legend":null}}},
{"data":{"name":"lab"},"transform":[{"filter":"datum.p=='f' && datum.k=='gene'"}],"mark":{"type":"text","align":"left","fontSize":10,"color":"#222"},"encoding":{"x":{"field":"t","type":"quantitative"},"y":{"field":"s","type":"quantitative"},"text":{"field":"txt"}}},
{"data":{"name":"lab"},"transform":[{"filter":"datum.p=='f' && datum.k=='pv'"}],"mark":{"type":"text","align":"left","fontSize":10,"fontStyle":"italic","color":"#222"},"encoding":{"x":{"field":"t","type":"quantitative"},"y":{"field":"s","type":"quantitative"},"text":{"value":"p"}}},
{"data":{"name":"lab"},"transform":[{"filter":"datum.p=='f' && datum.k=='pv'"}],"mark":{"type":"text","align":"left","fontSize":10,"dx":8,"color":"#222"},"encoding":{"x":{"field":"t","type":"quantitative"},"y":{"field":"s","type":"quantitative"},"text":{"field":"txt"}}}
]},
{"width":262,"height":35,"title":{"text":"Number at risk","anchor":"start","frame":"group","offset":0,"fontSize":10},"layer":[
{"data":{"name":"risk"},"transform":[{"filter":"datum.p=='f'"}],"mark":{"type":"text","fontSize":6,"color":"#333"},"encoding":{"x":{"field":"t","type":"quantitative","scale":{"domain":[-125,2660],"nice":false,"zero":false},"axis":{"values":[0,500,1000,1500,2000,2500],"format":"d","title":"OS (days)"}},"y":{"field":"g","type":"nominal","sort":["High","Low"],"axis":{"title":"Expression","ticks":false,"labelExpr":"'—'","labelFont":"DejaVu Sans","labelFontSize":14,"labelPadding":4,"titlePadding":4,"labelColor":{"condition":{"test":"datum.value=='High'","value":"#C8171E"},"value":"#0E5E30"}}},"text":{"field":"n","type":"quantitative"}}},
{"data":{"name":"risk"},"transform":[{"filter":"false"}],"mark":{"type":"point","filled":false},"encoding":{"x":{"field":"t","type":"quantitative"},"y":{"field":"g","type":"nominal","sort":["High","Low"]},"color":{"field":"g","type":"nominal","scale":{"domain":["High","Low"],"range":["#C8171E","#0E5E30"]},"legend":{"orient":"bottom","direction":"vertical","title":"Expression","symbolType":"M-1,0H1M0,-0.4V0.4","symbolSize":256,"symbolStrokeWidth":1.1,"symbolOpacity":1,"labelOffset":8,"rowPadding":0,"titlePadding":2,"offset":11,"padding":0,"labelFontSize":10,"titleFontSize":10,"titleFontWeight":"normal","labelColor":"#222","titleColor":"#222"}}}}
]}
]}
],"spacing":10,"resolve":{"scale":{"color":"independent"},"legend":{"color":"independent"}}},
{"hconcat":[
{"title":{"text":"(g)","orient":"bottom","anchor":"middle","offset":10,"fontSize":11},"spacing":8,"resolve":{"scale":{"color":"independent"},"legend":{"color":"independent"}},"vconcat":[
{"width":262,"height":194,"layer":[
{"data":{"name":"med"},"transform":[{"filter":"datum.p=='g'"}],"mark":{"type":"rule","color":"#333","strokeWidth":0.9,"strokeDash":[3,2.5]},"encoding":{"x":{"field":"t","type":"quantitative","scale":{"domain":[-125,2660],"nice":false,"zero":false},"axis":{"values":[0,500,1000,1500,2000,2500],"format":"d","title":"OS (days)"}},"x2":{"field":"t2"},"y":{"field":"s","type":"quantitative","scale":{"domain":[-0.05,1.05],"nice":false,"zero":false},"axis":{"values":[0,0.25,0.5,0.75,1],"format":".2f","title":"Survival probability"}},"y2":{"field":"s2"}}},
{"data":{"name":"km"},"transform":[{"filter":"datum.p=='g'"}],"mark":{"type":"line","interpolate":"step-after","strokeWidth":1.2},"encoding":{"x":{"field":"t","type":"quantitative"},"y":{"field":"s","type":"quantitative"},"color":{"field":"g","type":"nominal","scale":{"domain":["High","Low"],"range":["#C8171E","#0E5E30"]},"legend":null}}},
{"data":{"name":"cen"},"transform":[{"filter":"datum.p=='g'"}],"mark":{"type":"point","shape":"M-1,0H1M0,-1V1","filled":false,"size":22,"strokeWidth":0.8,"opacity":1},"encoding":{"x":{"field":"t","type":"quantitative"},"y":{"field":"s","type":"quantitative"},"color":{"field":"g","type":"nominal","legend":null}}},
{"data":{"name":"lab"},"transform":[{"filter":"datum.p=='g' && datum.k=='gene'"}],"mark":{"type":"text","align":"left","fontSize":10,"color":"#222"},"encoding":{"x":{"field":"t","type":"quantitative"},"y":{"field":"s","type":"quantitative"},"text":{"field":"txt"}}},
{"data":{"name":"lab"},"transform":[{"filter":"datum.p=='g' && datum.k=='pv'"}],"mark":{"type":"text","align":"left","fontSize":10,"fontStyle":"italic","color":"#222"},"encoding":{"x":{"field":"t","type":"quantitative"},"y":{"field":"s","type":"quantitative"},"text":{"value":"p"}}},
{"data":{"name":"lab"},"transform":[{"filter":"datum.p=='g' && datum.k=='pv'"}],"mark":{"type":"text","align":"left","fontSize":10,"dx":8,"color":"#222"},"encoding":{"x":{"field":"t","type":"quantitative"},"y":{"field":"s","type":"quantitative"},"text":{"field":"txt"}}}
]},
{"width":262,"height":35,"title":{"text":"Number at risk","anchor":"start","frame":"group","offset":0,"fontSize":10},"layer":[
{"data":{"name":"risk"},"transform":[{"filter":"datum.p=='g'"}],"mark":{"type":"text","fontSize":6,"color":"#333"},"encoding":{"x":{"field":"t","type":"quantitative","scale":{"domain":[-125,2660],"nice":false,"zero":false},"axis":{"values":[0,500,1000,1500,2000,2500],"format":"d","title":"OS (days)"}},"y":{"field":"g","type":"nominal","sort":["High","Low"],"axis":{"title":"Expression","ticks":false,"labelExpr":"'—'","labelFont":"DejaVu Sans","labelFontSize":14,"labelPadding":4,"titlePadding":4,"labelColor":{"condition":{"test":"datum.value=='High'","value":"#C8171E"},"value":"#0E5E30"}}},"text":{"field":"n","type":"quantitative"}}},
{"data":{"name":"risk"},"transform":[{"filter":"false"}],"mark":{"type":"point","filled":false},"encoding":{"x":{"field":"t","type":"quantitative"},"y":{"field":"g","type":"nominal","sort":["High","Low"]},"color":{"field":"g","type":"nominal","scale":{"domain":["High","Low"],"range":["#C8171E","#0E5E30"]},"legend":{"orient":"bottom","direction":"vertical","title":"Expression","symbolType":"M-1,0H1M0,-0.4V0.4","symbolSize":256,"symbolStrokeWidth":1.1,"symbolOpacity":1,"labelOffset":8,"rowPadding":0,"titlePadding":2,"offset":11,"padding":0,"labelFontSize":10,"titleFontSize":10,"titleFontWeight":"normal","labelColor":"#222","titleColor":"#222"}}}}
]}
]},
{"title":{"text":"(h)","orient":"bottom","anchor":"middle","offset":10,"fontSize":11},"spacing":8,"resolve":{"scale":{"color":"independent"},"legend":{"color":"independent"}},"vconcat":[
{"width":262,"height":194,"layer":[
{"data":{"name":"med"},"transform":[{"filter":"datum.p=='h'"}],"mark":{"type":"rule","color":"#333","strokeWidth":0.9,"strokeDash":[3,2.5]},"encoding":{"x":{"field":"t","type":"quantitative","scale":{"domain":[-125,2660],"nice":false,"zero":false},"axis":{"values":[0,500,1000,1500,2000,2500],"format":"d","title":"OS (days)"}},"x2":{"field":"t2"},"y":{"field":"s","type":"quantitative","scale":{"domain":[-0.05,1.05],"nice":false,"zero":false},"axis":{"values":[0,0.25,0.5,0.75,1],"format":".2f","title":"Survival probability"}},"y2":{"field":"s2"}}},
{"data":{"name":"km"},"transform":[{"filter":"datum.p=='h'"}],"mark":{"type":"line","interpolate":"step-after","strokeWidth":1.2},"encoding":{"x":{"field":"t","type":"quantitative"},"y":{"field":"s","type":"quantitative"},"color":{"field":"g","type":"nominal","scale":{"domain":["High","Low"],"range":["#C8171E","#0E5E30"]},"legend":null}}},
{"data":{"name":"cen"},"transform":[{"filter":"datum.p=='h'"}],"mark":{"type":"point","shape":"M-1,0H1M0,-1V1","filled":false,"size":22,"strokeWidth":0.8,"opacity":1},"encoding":{"x":{"field":"t","type":"quantitative"},"y":{"field":"s","type":"quantitative"},"color":{"field":"g","type":"nominal","legend":null}}},
{"data":{"name":"lab"},"transform":[{"filter":"datum.p=='h' && datum.k=='gene'"}],"mark":{"type":"text","align":"left","fontSize":10,"color":"#222"},"encoding":{"x":{"field":"t","type":"quantitative"},"y":{"field":"s","type":"quantitative"},"text":{"field":"txt"}}},
{"data":{"name":"lab"},"transform":[{"filter":"datum.p=='h' && datum.k=='pv'"}],"mark":{"type":"text","align":"left","fontSize":10,"fontStyle":"italic","color":"#222"},"encoding":{"x":{"field":"t","type":"quantitative"},"y":{"field":"s","type":"quantitative"},"text":{"value":"p"}}},
{"data":{"name":"lab"},"transform":[{"filter":"datum.p=='h' && datum.k=='pv'"}],"mark":{"type":"text","align":"left","fontSize":10,"dx":8,"color":"#222"},"encoding":{"x":{"field":"t","type":"quantitative"},"y":{"field":"s","type":"quantitative"},"text":{"field":"txt"}}}
]},
{"width":262,"height":35,"title":{"text":"Number at risk","anchor":"start","frame":"group","offset":0,"fontSize":10},"layer":[
{"data":{"name":"risk"},"transform":[{"filter":"datum.p=='h'"}],"mark":{"type":"text","fontSize":6,"color":"#333"},"encoding":{"x":{"field":"t","type":"quantitative","scale":{"domain":[-125,2660],"nice":false,"zero":false},"axis":{"values":[0,500,1000,1500,2000,2500],"format":"d","title":"OS (days)"}},"y":{"field":"g","type":"nominal","sort":["High","Low"],"axis":{"title":"Expression","ticks":false,"labelExpr":"'—'","labelFont":"DejaVu Sans","labelFontSize":14,"labelPadding":4,"titlePadding":4,"labelColor":{"condition":{"test":"datum.value=='High'","value":"#C8171E"},"value":"#0E5E30"}}},"text":{"field":"n","type":"quantitative"}}},
{"data":{"name":"risk"},"transform":[{"filter":"false"}],"mark":{"type":"point","filled":false},"encoding":{"x":{"field":"t","type":"quantitative"},"y":{"field":"g","type":"nominal","sort":["High","Low"]},"color":{"field":"g","type":"nominal","scale":{"domain":["High","Low"],"range":["#C8171E","#0E5E30"]},"legend":{"orient":"bottom","direction":"vertical","title":"Expression","symbolType":"M-1,0H1M0,-0.4V0.4","symbolSize":256,"symbolStrokeWidth":1.1,"symbolOpacity":1,"labelOffset":8,"rowPadding":0,"titlePadding":2,"offset":11,"padding":0,"labelFontSize":10,"titleFontSize":10,"titleFontWeight":"normal","labelColor":"#222","titleColor":"#222"}}}}
]}
]}
],"spacing":10,"resolve":{"scale":{"color":"independent"},"legend":{"color":"independent"}}},
{"width":262,"height":194,"layer":[
{"data":{"name":"med"},"transform":[{"filter":"datum.p=='i'"}],"mark":{"type":"rule","color":"#333","strokeWidth":0.9,"strokeDash":[3,2.5]},"encoding":{"x":{"field":"t","type":"quantitative","scale":{"domain":[-125,2660],"nice":false,"zero":false},"axis":{"values":[0,500,1000,1500,2000,2500],"format":"d","title":"OS (days)"}},"x2":{"field":"t2"},"y":{"field":"s","type":"quantitative","scale":{"domain":[-0.05,1.05],"nice":false,"zero":false},"axis":{"values":[0,0.25,0.5,0.75,1],"format":".2f","title":"Survival probability"}},"y2":{"field":"s2"}}},
{"data":{"name":"km"},"transform":[{"filter":"datum.p=='i'"}],"mark":{"type":"line","interpolate":"step-after","strokeWidth":1.2},"encoding":{"x":{"field":"t","type":"quantitative"},"y":{"field":"s","type":"quantitative"},"color":{"field":"g","type":"nominal","scale":{"domain":["High","Low"],"range":["#C8171E","#0E5E30"]},"legend":null}}},
{"data":{"name":"cen"},"transform":[{"filter":"datum.p=='i'"}],"mark":{"type":"point","shape":"M-1,0H1M0,-1V1","filled":false,"size":22,"strokeWidth":0.8,"opacity":1},"encoding":{"x":{"field":"t","type":"quantitative"},"y":{"field":"s","type":"quantitative"},"color":{"field":"g","type":"nominal","legend":null}}}
]}
],
"spacing":7,"center":true,
"resolve":{"scale":{"color":"independent"},"legend":{"color":"independent"}}
}
